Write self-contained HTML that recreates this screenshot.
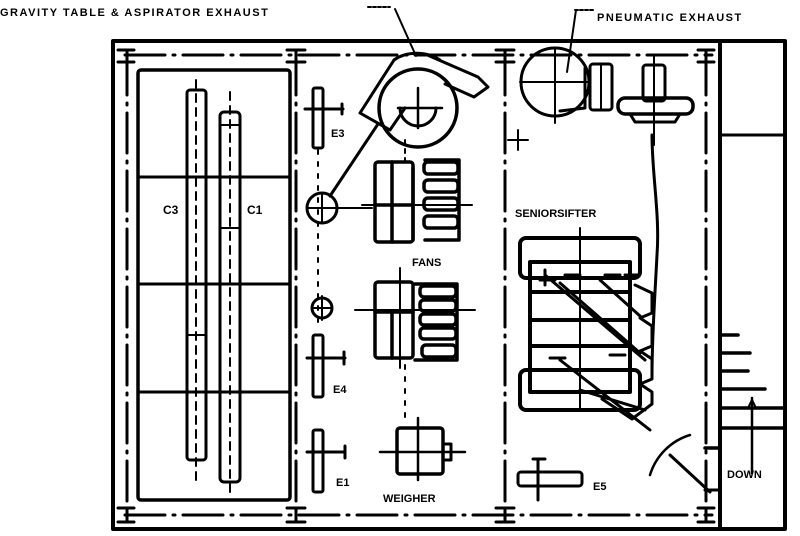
<!DOCTYPE html>
<html><head><meta charset="utf-8"><style>
html,body{margin:0;padding:0;background:#fff;width:800px;height:536px;overflow:hidden}
svg{display:block}
text{font-family:"Liberation Sans",sans-serif;font-weight:bold;fill:#000}
</style></head><body>
<svg width="800" height="536" viewBox="0 0 800 536" xmlns="http://www.w3.org/2000/svg">
<g fill="none" stroke="#000" stroke-linecap="round" stroke-linejoin="round">
<rect x="113" y="41" width="672" height="488" stroke-width="4"/>
<line x1="720" y1="41" x2="720" y2="529" stroke-width="4"/>
<line x1="720" y1="135" x2="785" y2="135" stroke-width="3"/>
<g stroke-width="3" stroke-dasharray="40 8 2 8">
<line x1="125" y1="55" x2="712" y2="55"/>
<line x1="125" y1="515" x2="712" y2="515"/>
<line x1="127" y1="55" x2="127" y2="515"/>
<line x1="296" y1="55" x2="296" y2="515"/>
<line x1="505" y1="55" x2="505" y2="515"/>
<line x1="706" y1="55" x2="706" y2="515"/>
</g>
<g stroke-width="3">
<path d="M118 50h16M127 50v12M118 62h16"/>
<path d="M287 50h18M296 50v12M287 62h18"/>
<path d="M496 50h18M505 50v12M496 62h18"/>
<path d="M698 50h16M706 50v12M698 62h16"/>
<path d="M118 508h16M127 508v14M118 522h16"/>
<path d="M287 508h18M296 508v14M287 522h18"/>
<path d="M496 508h18M505 508v14M496 522h18"/>
<path d="M698 508h16M706 508v14M698 522h16"/>
</g>
<rect x="138" y="70" width="152" height="430" stroke-width="3.5" rx="3"/>
<g stroke-width="3">
<line x1="138" y1="177" x2="290" y2="177"/>
<line x1="138" y1="284" x2="290" y2="284"/>
<line x1="138" y1="392" x2="290" y2="392"/>
</g>
<rect x="187" y="90" width="19" height="370" stroke-width="3" rx="3"/>
<line x1="196" y1="80" x2="196" y2="480" stroke-width="2" stroke-dasharray="8 6"/>
<line x1="187" y1="335" x2="206" y2="335" stroke-width="2"/>
<rect x="220" y="112" width="20" height="370" stroke-width="3" rx="4"/>
<line x1="230" y1="92" x2="230" y2="492" stroke-width="2" stroke-dasharray="8 6"/>
<line x1="220" y1="125" x2="240" y2="125" stroke-width="2"/>
<line x1="220" y1="228" x2="240" y2="228" stroke-width="2"/>
<g stroke-width="3">
<rect x="313" y="88" width="10" height="60" rx="2"/>
<path d="M305 109h38M342 104v10"/>
<rect x="313" y="335" width="10" height="62" rx="2"/>
<path d="M307 358h38M344 352v12"/>
<rect x="313" y="430" width="10" height="62" rx="2"/>
<path d="M307 452h38M345 446v12"/>
</g>
<line x1="318" y1="150" x2="318" y2="330" stroke-width="2" stroke-dasharray="4 8"/>
<circle cx="322" cy="208" r="15" stroke-width="3"/>
<path d="M307 208h65M322 193v30" stroke-width="2"/>
<circle cx="322" cy="308" r="10" stroke-width="3"/>
<path d="M312 308h20M322 296v24" stroke-width="2"/>
<path d="M330 196L378 124" stroke-width="3"/>
<!-- cyclone -->
<circle cx="418" cy="108" r="39" stroke-width="3.5"/>
<path d="M400 108a18 18 0 0 0 36 0" stroke-width="3"/>
<path d="M398 108h44M418 88v40" stroke-width="2.5"/>
<path d="M360 113L394 60M360 113L390 130L405 108" stroke-width="3"/>
<path d="M394 60C405 52 425 50 440 60" stroke-width="3"/>
<path d="M425 54L478 77L488 87L474 97L445 84" stroke-width="3"/>
<line x1="395" y1="9" x2="416" y2="56" stroke-width="2"/>
<path d="M368 7h22" stroke-width="2" stroke-dasharray="3 2"/>
<g stroke-width="3.5">
<rect x="375" y="162" width="38" height="80" rx="3"/>
<line x1="375" y1="205" x2="413" y2="205"/>
<line x1="392" y1="162" x2="392" y2="242"/>
<path d="M425 160h34v80h-34"/>
<rect x="424" y="162" width="34" height="12" rx="4"/>
<rect x="424" y="180" width="34" height="12" rx="4"/>
<rect x="424" y="198" width="34" height="12" rx="4"/>
<rect x="424" y="216" width="34" height="12" rx="4"/>
<line x1="413" y1="168" x2="413" y2="240"/>
<rect x="375" y="282" width="38" height="76" rx="3"/>
<line x1="375" y1="312" x2="413" y2="312"/>
<line x1="392" y1="312" x2="392" y2="358"/>
<path d="M415 284h42v76h-42"/>
<rect x="420" y="286" width="36" height="11" rx="4"/>
<rect x="420" y="300" width="36" height="11" rx="4"/>
<rect x="420" y="314" width="36" height="11" rx="4"/>
<rect x="420" y="328" width="36" height="11" rx="4"/>
<rect x="422" y="345" width="34" height="12" rx="4"/>
</g>
<path d="M355 310h120M400 268v100" stroke-width="2"/>
<path d="M362 205h110" stroke-width="2"/>
<line x1="405" y1="140" x2="405" y2="165" stroke-width="2" stroke-dasharray="4 5"/>
<line x1="405" y1="365" x2="405" y2="425" stroke-width="2" stroke-dasharray="4 8"/>
<rect x="397" y="428" width="46" height="46" rx="3" stroke-width="3.5"/>
<path d="M380 452h85M418 418v62" stroke-width="2.5"/>
<rect x="443" y="444" width="8" height="16" stroke-width="3"/>
<circle cx="555" cy="82" r="34" stroke-width="3"/>
<path d="M520 82h70M555 48v75" stroke-width="2"/>
<path d="M560 111l25-3 0-40" stroke-width="3"/>
<rect x="590" y="64" width="22" height="46" rx="3" stroke-width="3"/>
<line x1="601" y1="64" x2="601" y2="110" stroke-width="2"/>
<line x1="576" y1="10" x2="567" y2="72" stroke-width="2"/>
<path d="M575 10h20" stroke-width="2" stroke-dasharray="3 2"/>
<path d="M508 140h20M518 130v20" stroke-width="2"/>
<rect x="643" y="65" width="22" height="36" rx="3" stroke-width="3"/>
<rect x="618" y="98" width="75" height="16" rx="7" stroke-width="3.5"/>
<path d="M630 114h50l-5 8h-40z" stroke-width="3"/>
<path d="M654 55v90" stroke-width="2"/>
<path d="M652 135c0 40 8 80 5 120c-2 40-5 80 -5 120" stroke-width="3"/>
<g stroke-width="4">
<rect x="520" y="238" width="120" height="40" rx="6"/>
<rect x="520" y="370" width="120" height="40" rx="6"/>
<rect x="530" y="262" width="100" height="130"/>
<line x1="530" y1="292" x2="630" y2="292"/>
<line x1="530" y1="320" x2="630" y2="320"/>
<line x1="530" y1="346" x2="630" y2="346"/>
</g>
<g stroke-width="3">
<path d="M545 275l100 85M560 283l80 70M600 280l40 36M560 360l90 70M580 390l65 20"/>
<path d="M540 280h15M545 270v15M565 275h15M605 275h15M625 275h12M550 358h15M610 355h15"/>
<path d="M635 285l17 8v20l-12 5 12 8v20l-12 5 12 8v20l-12 5 12 8v12l-20 15-30-20"/>
</g>
<line x1="580" y1="228" x2="580" y2="410" stroke-width="2"/>
<rect x="518" y="472" width="64" height="14" rx="3" stroke-width="3"/>
<path d="M538 460v40M533 459h12" stroke-width="3"/>
<g stroke-width="3.5">
<path d="M720 335h18M720 353h30M720 371h28M720 389h45M720 408h65M720 428h65M705 448h15"/>
</g>
<path d="M752 398v75" stroke-width="2.5"/>
<path d="M748 408l4-8 4 8" stroke-width="2"/>
<path d="M650 475a60 60 0 0 1 40-40" stroke-width="2.5"/>
<line x1="670" y1="455" x2="710" y2="492" stroke-width="3"/>
<path d="M705 490h15" stroke-width="3"/>
</g>
<g font-size="12">
<text x="0" y="16" font-size="11" letter-spacing="1.5">GRAVITY TABLE &amp; ASPIRATOR EXHAUST</text>
<text x="597" y="21" font-size="11" letter-spacing="1.5">PNEUMATIC  EXHAUST</text>
<text x="163" y="214">C3</text>
<text x="247" y="214">C1</text>
<text x="331" y="137" font-size="11">E3</text>
<text x="333" y="393" font-size="11">E4</text>
<text x="336" y="486" font-size="11">E1</text>
<text x="412" y="266" font-size="11">FANS</text>
<text x="383" y="502" font-size="11">WEIGHER</text>
<text x="515" y="217" font-size="11">SENIORSIFTER</text>
<text x="593" y="490" font-size="11">E5</text>
<text x="727" y="478" font-size="11">DOWN</text>
</g>
</svg>
</body></html>
